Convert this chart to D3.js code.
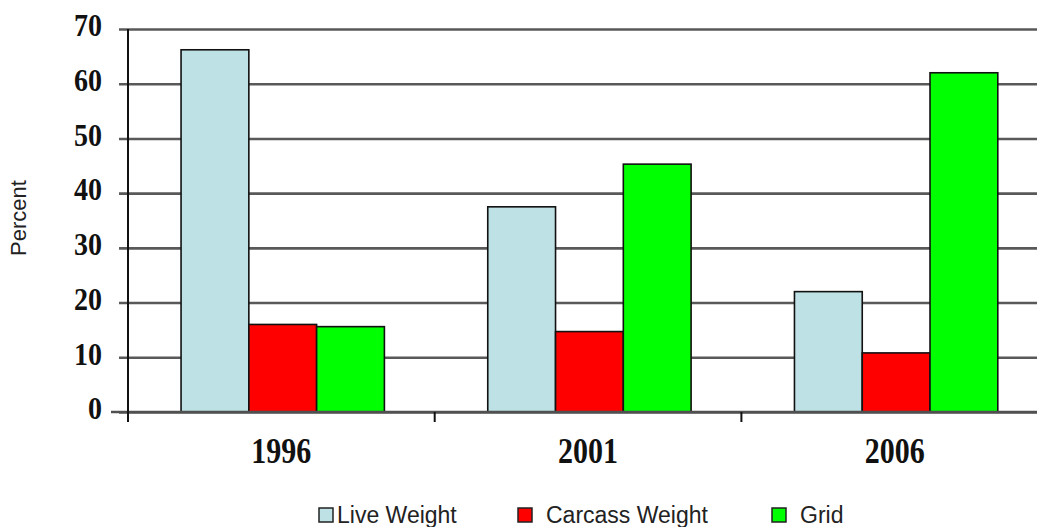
<!DOCTYPE html>
<html>
<head>
<meta charset="utf-8">
<script src="https://cdn.jsdelivr.net/npm/d3@7"></script>
<style>
  html, body { margin: 0; padding: 0; background: #fff; }
  svg { display: block; }
</style>
</head>
<body>
<svg id="chart" width="1037" height="527"></svg>
<script>
// Share of fed cattle marketed by pricing method
const years = ["1996", "2001", "2006"];
const seriesNames = ["Live Weight", "Carcass Weight", "Grid"];
const liveWeight = [66.2, 37.5, 22.0];
const carcassWeight = [16.0, 14.7, 10.8];
const grid = [15.6, 45.3, 62.0];
const yTicks = [0, 10, 20, 30, 40, 50, 60, 70];
const seriesColors = ["#bde1e4", "#ff0000", "#00ff00"];

const seriesValues = [liveWeight, carcassWeight, grid];

const svg = d3.select("#chart");
const W = 1037;

const plotLeft = 128, plotTop = 29, plotBottom = 412;
const bandW = 306.7;

const y = d3.scaleLinear().domain([0, 70]).range([plotBottom, plotTop]);
const x0 = d3.scaleBand().domain(years)
  .range([plotLeft, plotLeft + bandW * years.length]);
const x1 = d3.scaleBand().domain(seriesNames)
  .range([x0.bandwidth() * 0.173, x0.bandwidth() * 0.836]);

// horizontal gridlines (drawn as extended left-axis ticks)
const gridAxis = d3.axisLeft(y).tickValues(yTicks)
  .tickSize(-(W - plotLeft)).tickFormat("").tickSizeOuter(0);
const gG = svg.append("g").attr("transform", `translate(${plotLeft},0)`).call(gridAxis);
gG.select(".domain").remove();
gG.selectAll(".tick line")
  .attr("x1", -9)
  .attr("stroke", "#595959")
  .attr("stroke-width", 2.6);

// bars
const groups = svg.append("g").selectAll("g")
  .data(years)
  .join("g")
  .attr("transform", d => `translate(${x0(d)},0)`);

groups.selectAll("rect")
  .data((d, i) => seriesNames.map((s, k) => ({ s, k, v: seriesValues[k][i] })))
  .join("rect")
  .attr("x", d => x1(d.s))
  .attr("width", x1.bandwidth())
  .attr("y", d => y(d.v))
  .attr("height", d => y(0) - y(d.v))
  .attr("fill", d => seriesColors[d.k])
  .attr("stroke", "#111")
  .attr("stroke-width", 1.6);

// baseline
svg.append("line")
  .attr("x1", plotLeft - 17).attr("x2", W)
  .attr("y1", y(0)).attr("y2", y(0))
  .attr("stroke", "#505050").attr("stroke-width", 2.6);

// y axis
const yAxis = d3.axisLeft(y).tickValues(yTicks).tickSize(0).tickPadding(0).tickSizeOuter(0);
const yG = svg.append("g").attr("transform", `translate(${plotLeft},0)`).call(yAxis);
yG.select(".domain").remove();
yG.selectAll(".tick text")
  .attr("x", -26)
  .attr("dy", null)
  .attr("y", 6)
  .attr("transform", "scale(1,1.14)")
  .attr("font-family", "'Liberation Serif', 'Times New Roman', serif")
  .attr("font-weight", "bold")
  .attr("font-size", 28)
  .attr("fill", "#111")
  .attr("text-anchor", "end");
svg.append("line")
  .attr("x1", plotLeft).attr("x2", plotLeft)
  .attr("y1", plotTop).attr("y2", plotBottom + 10)
  .attr("stroke", "#111").attr("stroke-width", 2);

// x axis: ticks at category boundaries, labels centred
const xAxis = d3.axisBottom(x0).tickSize(0).tickPadding(0).tickSizeOuter(0);
const xG = svg.append("g").attr("transform", `translate(0,${plotBottom})`).call(xAxis);
xG.select(".domain").remove();
xG.selectAll(".tick text")
  .attr("y", 42.5)
  .attr("dy", null)
  .attr("transform", "scale(1,1.2)")
  .attr("font-family", "'Liberation Serif', 'Times New Roman', serif")
  .attr("font-weight", "bold")
  .attr("font-size", 30)
  .attr("fill", "#111");
xG.selectAll(".tick").append("line")
  .attr("x1", x0.bandwidth() / 2).attr("x2", x0.bandwidth() / 2)
  .attr("y1", 0).attr("y2", 10)
  .attr("stroke", "#111").attr("stroke-width", 2)
  .filter((d, i) => i === years.length - 1).remove();

// y axis title
svg.append("text")
  .attr("transform", "translate(26,218) rotate(-90)")
  .attr("text-anchor", "middle")
  .attr("font-family", "'Liberation Sans', Arial, Helvetica, sans-serif")
  .attr("font-size", 22)
  .attr("fill", "#222")
  .text("Percent");

// legend
const legendX = [319, 518, 772];
const legend = svg.append("g").selectAll("g")
  .data(seriesNames)
  .join("g")
  .attr("transform", (d, i) => `translate(${legendX[i]},508)`);
legend.append("rect")
  .attr("width", 14).attr("height", 14)
  .attr("fill", (d, i) => seriesColors[i])
  .attr("stroke", "#222").attr("stroke-width", 1.5);
legend.append("text")
  .attr("x", (d, i) => i === 0 ? 18 : 28)
  .attr("y", 15)
  .attr("font-family", "'Liberation Sans', Arial, Helvetica, sans-serif")
  .attr("font-size", 23)
  .attr("fill", "#222")
  .text(d => d);
</script>
</body>
</html>
